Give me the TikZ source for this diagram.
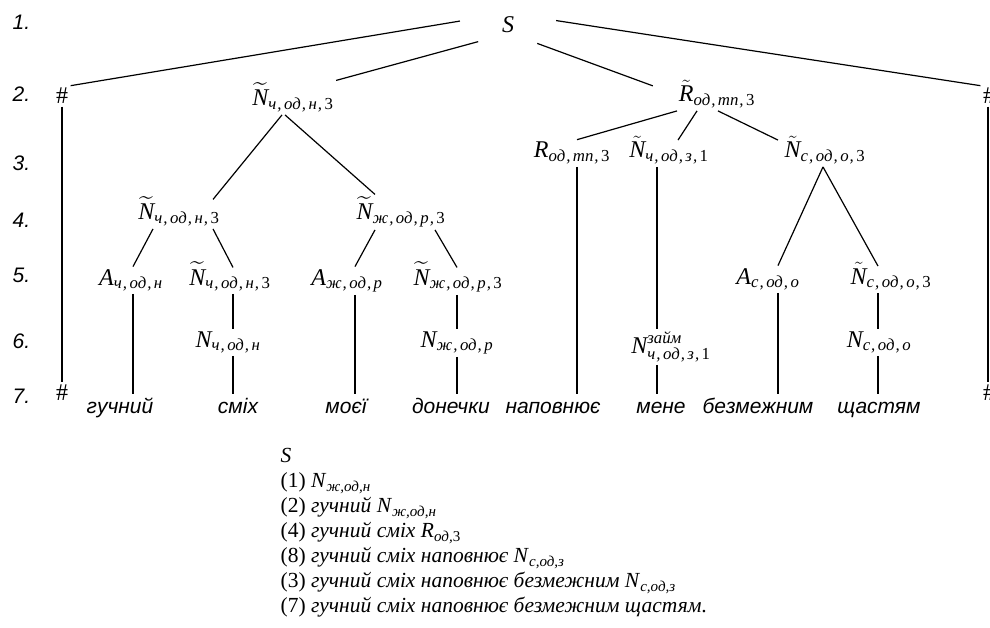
\documentclass[tikz,border=0pt]{standalone}
\usepackage{amsmath}
\usepackage{fontspec}
\setmainfont{Liberation Serif}
\newfontfamily\arialfont{Liberation Sans}
\newcommand\itx[1]{\text{\itshape #1}}
\newcommand\ix[1]{_{\text{\itshape #1}}}
\newcommand\cm{\kern1pt,\kern2.5pt}
\newcommand\Nw{\widetilde{\itx{N}}}
\newcommand\Nt{\tilde{\itx{N}}}
\newcommand\Rt{\tilde{\itx{R}}}
\newcommand\lsub[1]{$_{\text{\itshape #1}}$}
\tikzset{
  lvl/.style={anchor=base west, inner sep=0pt, font=\arialfont\itshape\fontsize{21}{24}\selectfont},
  sym/.style={anchor=base, inner sep=2pt, font=\fontsize{24}{28}\selectfont},
  wrd/.style={anchor=base, inner sep=3pt, text height=15pt, text depth=4pt, font=\arialfont\itshape\fontsize{21}{24}\selectfont},
}
\begin{document}
\begin{tikzpicture}[x=1pt,y=-1pt,line width=1.2pt]
\useasboundingbox (0,0) rectangle (990,628);
\foreach \n/\y in {1/30,2/102,3/171,4/228,5/283,6/348,7/403}
  \node[lvl] (row\n) at (12,\y) {\n.};

\node[sym] (s) at (508,33) {$\itx{S}$};
\node[sym] (hl) at (62,104) {\#};
\node[sym] (hr) at (989,104) {\#};
\node[sym] (hl7) at (62,400) {\#};
\node[sym] (hr7) at (989,400) {\#};

\node[sym] (n2a) at (293,106) {$\Nw\ix{ч\cm од\cm н\cm\upshape 3}$};
\node[sym] (n4a) at (179,220) {$\Nw\ix{ч\cm од\cm н\cm\upshape 3}$};
\node[sym] (n4b) at (401,220) {$\Nw\ix{ж\cm од\cm р\cm\upshape 3}$};
\node[sym] (a5a) at (131,285) {$\itx{A}\ix{ч\cm од\cm н}$};
\node[sym] (n5b) at (230,285) {$\Nw\ix{ч\cm од\cm н\cm\upshape 3}$};
\node[sym] (a5c) at (347,285) {$\itx{A}\ix{ж\cm од\cm р}$};
\node[sym] (n5d) at (458,285) {$\Nw\ix{ж\cm од\cm р\cm\upshape 3}$};
\node[sym] (n6b) at (228,347) {$\itx{N}\ix{ч\cm од\cm н}$};
\node[sym] (n6d) at (457,347) {$\itx{N}\ix{ж\cm од\cm р}$};

\node[sym] (r2) at (717,102) {$\Rt\ix{од\cm тп\cm\upshape 3}$};
\node[sym] (r3a) at (572,158) {$\itx{R}\ix{од\cm тп\cm\upshape 3}$};
\node[sym] (n3b) at (669,158) {$\Nt\ix{ч\cm од\cm з\cm\upshape 1}$};
\node[sym] (n3c) at (825,158) {$\Nt\ix{с\cm од\cm о\cm\upshape 3}$};
\node[sym] (a5e) at (768,284) {$\itx{A}\ix{с\cm од\cm о}$};
\node[sym] (n5f) at (891,284) {$\Nt\ix{с\cm од\cm о\cm\upshape 3}$};
\node[sym] (n6c) at (671,353) {$\itx{N}^{\text{\itshape займ}}\ix{ч\cm од\cm з\cm\upshape 1}$};
\node[sym] (n6f) at (879,347) {$\itx{N}\ix{с\cm од\cm о}$};

\foreach \w/\x/\t in {w1/120/гучний,w2/238/сміх,w3/346/моєї,w4/451/донечки,
    w5/553/наповнює,w6/661/мене,w7/758/безмежним,w8/879/щастям}
  \node[wrd] (\w) at (\x,413) {\t};

\draw[shorten <=40pt] (s.north west) -- (hl.north east);
\draw[shorten <=22pt] (s.south west) -- (n2a.north east);
\draw[shorten <=22pt,shorten >=25pt] (s.south east) -- (r2.west);
\draw[shorten <=40pt] (s.north east) -- (hr.north west);
\draw (hl.south) -- (hl7.north);
\draw ([xshift=-1]hr.south) -- ([xshift=-1]hr7.north);

\draw ([xshift=-11]n2a.south) -- ([shift={(34,5)}]n4a.north);
\draw ([xshift=-8]n2a.south) -- ([xshift=-26]n4b.north);
\draw ([xshift=-26]n4a.south) -- ([xshift=2]a5a.north);
\draw ([xshift=34]n4a.south) -- ([shift={(3,8)}]n5b.north);
\draw ([xshift=-26]n4b.south) -- ([xshift=8]a5c.north);
\draw ([xshift=34]n4b.south) -- ([shift={(-1,8)}]n5d.north);
\draw ([xshift=2]a5a.south) -- ([xshift=2]a5a.south |- w1.north);
\draw ([xshift=3]n5b.south) -- ([xshift=3]n5b.south |- n6b.north);
\draw ([xshift=3]n5b.south |- n6b.south) -- ([xshift=3]n5b.south |- w2.north);
\draw ([xshift=8]a5c.south) -- ([xshift=8]a5c.south |- w3.north);
\draw ([xshift=-1]n5d.south) -- ([xshift=-1]n5d.south |- n6d.north);
\draw ([xshift=-1]n5d.south |- n6d.south) -- ([xshift=-1]n5d.south |- w4.north);

\draw ([xshift=-40]r2.south) -- ([xshift=5]r3a.north);
\draw ([xshift=-20]r2.south) -- ([shift={(9,6)}]n3b.north);
\draw ([xshift=1]r2.south) -- ([shift={(-47,6)}]n3c.north);
\draw ([xshift=5]r3a.south) -- ([xshift=5]r3a.south |- w5.north);
\draw ([xshift=-12]n3b.south) -- ([xshift=-12]n3b.south |- n6c.north);
\draw ([xshift=-12]n3b.south |- n6c.south) -- ([xshift=-12]n3b.south |- w6.north);
\draw ([xshift=-2]n3c.south) -- ([xshift=10]a5e.north);
\draw ([xshift=-2]n3c.south) -- ([shift={(-13,6)}]n5f.north);
\draw ([xshift=10]a5e.south) -- ([xshift=10]a5e.south |- w7.north);
\draw ([xshift=-13]n5f.south) -- ([xshift=-13]n5f.south |- n6f.north);
\draw ([xshift=-13]n5f.south |- n6f.south) -- ([xshift=-13]n5f.south |- w8.north);

\node[anchor=north west, inner sep=0pt, align=left, font=\fontsize{21.5}{25}\selectfont] (deriv) at (280,448)
  {\textit{S}\\
   (1) \textit{N}\lsub{ж,од,н}\\
   (2) \textit{гучний N}\lsub{ж,од,н}\\
   (4) \textit{гучний сміх R}\lsub{од,\upshape 3}\\
   (8) \textit{гучний сміх наповнює N}\lsub{с,од,з}\\
   (3) \textit{гучний сміх наповнює безмежним N}\lsub{с,од,з}\\
   (7) \textit{гучний сміх наповнює безмежним щастям}.};
\end{tikzpicture}
\end{document}
